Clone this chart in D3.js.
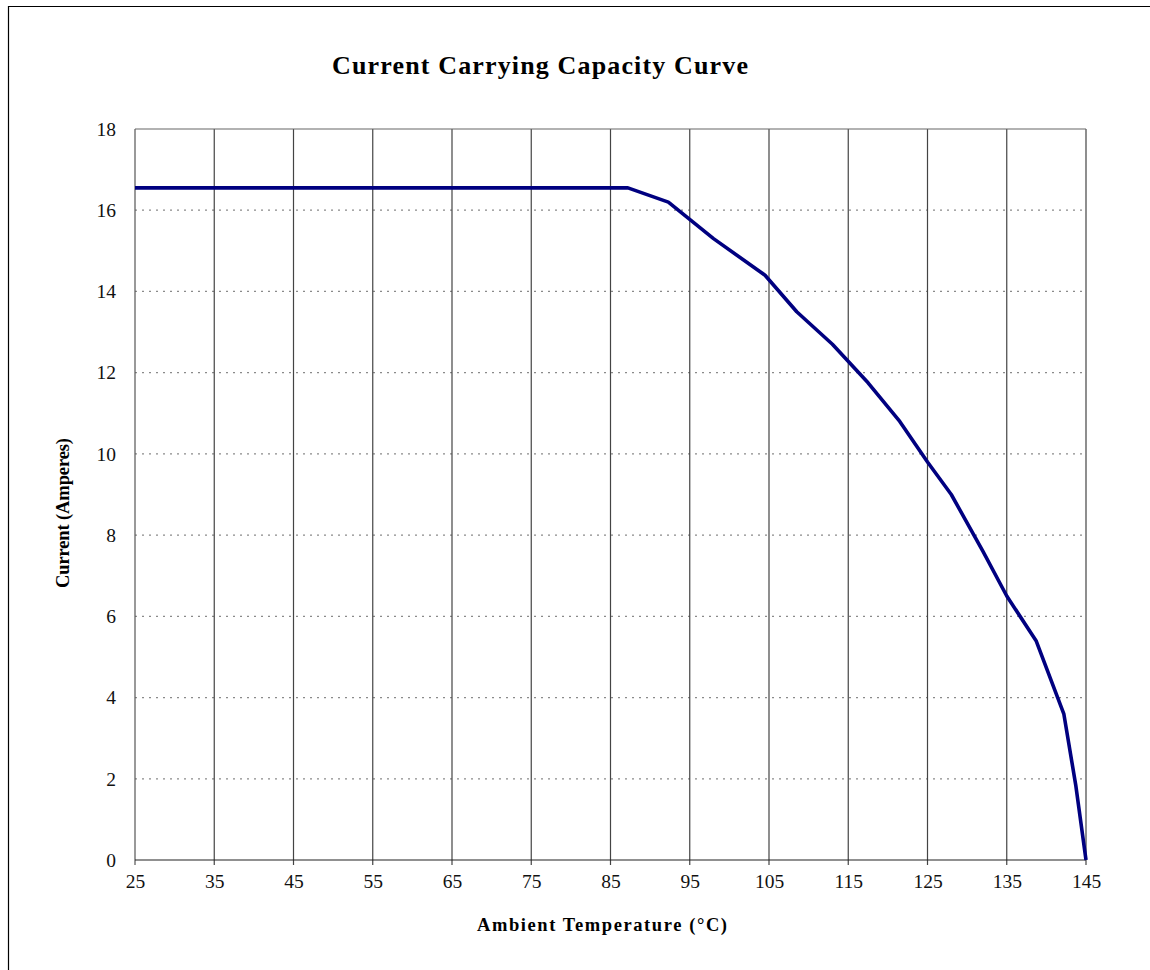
<!DOCTYPE html>
<html>
<head>
<meta charset="utf-8">
<script src="https://cdn.jsdelivr.net/npm/d3@7"></script>
<style>
  html, body { margin: 0; padding: 0; background: #fff; }
  svg { display: block; }
</style>
</head>
<body>
<script>
// ---- data ----
const temperature = [25, 87.2, 92.3, 98, 104.5, 108.5, 113, 117.5, 121.5, 125, 128, 132, 135, 138.7, 142.2, 143.7, 145];
const current     = [16.55, 16.55, 16.2, 15.3, 14.4, 13.5, 12.7, 11.75, 10.8, 9.8, 9.0, 7.6, 6.5, 5.4, 3.6, 1.85, 0];
const xTicks = [25, 35, 45, 55, 65, 75, 85, 95, 105, 115, 125, 135, 145];
const yTicks = [0, 2, 4, 6, 8, 10, 12, 14, 16, 18];
const titleText = "Current Carrying Capacity Curve";
const xLabel = "Ambient Temperature (\u00B0C)";
const yLabel = "Current (Amperes)";

const W = 1150, H = 970;
const m = { left: 135, top: 129, right: 1086, bottom: 860 };
const serif = "'Liberation Serif', 'Times New Roman', serif";

const svg = d3.select("body").append("svg").attr("width", W).attr("height", H);

// outer frame (only left and top visible)
svg.append("path").attr("d", `M8.5,${H} L8.5,6.5 L${W},6.5`)
  .attr("fill", "none").attr("stroke", "#000").attr("stroke-width", 1.2);

const x = d3.scaleLinear().domain([25, 145]).range([m.left, m.right]);
const y = d3.scaleLinear().domain([0, 18]).range([m.bottom, m.top]);

// horizontal dotted grid
svg.append("g").selectAll("line").data(yTicks.filter(t => t > 0 && t < 18)).join("line")
  .attr("x1", m.left).attr("x2", m.right)
  .attr("y1", d => y(d)).attr("y2", d => y(d))
  .attr("stroke", "#8a8a8a").attr("stroke-width", 1.3).attr("stroke-dasharray", "2,5");

// vertical grid with tick extension
svg.append("g").selectAll("line").data(xTicks).join("line")
  .attr("x1", d => x(d)).attr("x2", d => x(d))
  .attr("y1", m.top).attr("y2", m.bottom + 5)
  .attr("stroke", (d, i) => (i === 0) ? "#555" : "#444").attr("stroke-width", 1.2);

// top border
svg.append("line").attr("x1", m.left).attr("x2", m.right).attr("y1", m.top).attr("y2", m.top)
  .attr("stroke", "#666").attr("stroke-width", 1.2);
// bottom axis line
svg.append("line").attr("x1", m.left).attr("x2", m.right).attr("y1", m.bottom).attr("y2", m.bottom)
  .attr("stroke", "#222").attr("stroke-width", 1.2);

// x tick labels via axis
const xAxis = svg.append("g").attr("transform", `translate(0,${m.bottom})`)
  .call(d3.axisBottom(x).tickValues(xTicks).tickSize(0).tickPadding(14).tickFormat(d3.format("d")));
xAxis.select(".domain").remove();
xAxis.selectAll("text").attr("font-family", serif).attr("font-size", 19.5).attr("fill", "#111");

// y tick labels via axis
const yAxis = svg.append("g").attr("transform", `translate(${m.left},0)`)
  .call(d3.axisLeft(y).tickValues(yTicks).tickSize(0).tickPadding(19).tickFormat(d3.format("d")));
yAxis.select(".domain").remove();
yAxis.selectAll("text").attr("font-family", serif).attr("font-size", 19.5).attr("fill", "#111");

// curve
const pts = temperature.map((t, i) => [t, current[i]]);
svg.append("path").datum(pts)
  .attr("fill", "none").attr("stroke", "#000080").attr("stroke-width", 3.6)
  .attr("stroke-linejoin", "round")
  .attr("d", d3.line().x(d => x(d[0])).y(d => y(d[1])));

// title
svg.append("text").attr("x", 540).attr("y", 74).attr("text-anchor", "middle")
  .attr("font-family", serif).attr("font-weight", "bold").attr("font-size", 26)
  .attr("textLength", 416).attr("lengthAdjust", "spacing")
  .text(titleText);

// x label
svg.append("text").attr("x", 602).attr("y", 931).attr("text-anchor", "middle")
  .attr("font-family", serif).attr("font-weight", "bold").attr("font-size", 18.5)
  .attr("textLength", 250).attr("lengthAdjust", "spacing")
  .text(xLabel);

// y label
svg.append("text").attr("transform", "translate(69,513) rotate(-90)").attr("text-anchor", "middle")
  .attr("font-family", serif).attr("font-weight", "bold").attr("font-size", 18.5)
  .attr("textLength", 150).attr("lengthAdjust", "spacing")
  .text(yLabel);
</script>
</body>
</html>
